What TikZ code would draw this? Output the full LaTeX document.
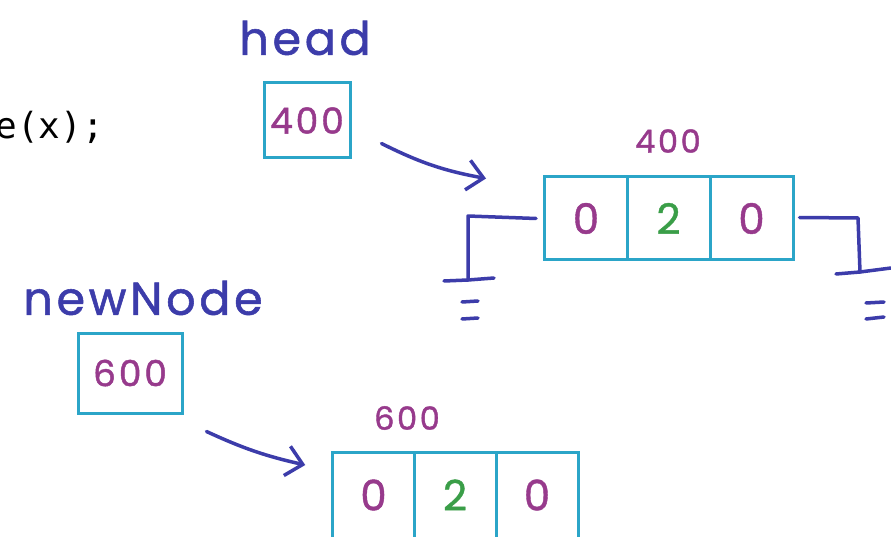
\documentclass[tikz,border=0pt]{standalone}
\usepackage{fontspec}
\setmainfont{Poppins}[FakeBold=1]
\newfontfamily\codefont{DejaVu Sans Mono}
\newfontfamily\handfont[LetterSpace=8,FakeBold=1.2]{Poppins}
\usetikzlibrary{arrows.meta}

\definecolor{boxc}{HTML}{2BA5C8}
\definecolor{inkc}{HTML}{3C3CAA}
\definecolor{digc}{HTML}{973A8C}
\definecolor{valc}{HTML}{3A9E48}

\tikzset{
  ptrbox/.style={draw=boxc, line width=3pt, inner sep=0pt,
    text=digc, font=\handfont\fontsize{36}{36}\selectfont},
  cell/.style={draw=boxc, line width=3pt, inner sep=0pt,
    minimum width=83, minimum height=83, font=\fontsize{42}{42}\selectfont},
  varname/.style={text=inkc, font=\handfont\fontsize{46}{46}\selectfont},
  addr/.style={text=digc, font=\handfont\fontsize{32}{32}\selectfont},
  ink/.style={draw=inkc, line width=3.5pt, line cap=round, line join=round},
  ptrarrow/.style={ink, -{Straight Barb[length=16pt, width=30pt, line width=3.5pt]}},
}

\begin{document}
\begin{tikzpicture}[x=1pt, y=-1pt]
  \useasboundingbox (0,0) rectangle (891,537);
  \clip (0,0) rectangle (891,537);
  \fill[white] (0,0) rectangle (891,537);

  % code fragment on the left, running off the left edge
  \node[anchor=base east, inner sep=0pt, font=\codefont\fontsize{36}{36}\selectfont] (code) at (104,139) {e(x);};

  % head pointer
  \node[varname] (headlbl) at (305,38) {head};
  \node[ptrbox, minimum width=86, minimum height=75] (headbox) at (307,120.5) {400};

  % node at address 400
  \node[addr] (addr400) at (668,141) {400};
  \node[cell, text=digc] (a1) at (586,218.5) {0};
  \node[cell, text=valc] (a2) at (668.5,218.5) {2};
  \node[cell, text=digc] (a3) at (751.5,218.5) {0};

  \draw[ptrarrow] ([shift={(30,23)}]headbox.east) to[bend right=8] ([shift={(-57,-40)}]a1.west);

  % null links of the node at 400
  \coordinate (lg) at (468,280);
  \draw[ink] ([xshift=-7]a1.west) -- (468,216) -- (lg);
  \draw[ink] (444,281) -- (lg) -- (494,278);
  \draw[ink] (462,302) -- (478,301);
  \draw[ink] (462,319) -- (478,318);

  \coordinate (rg) at (860,272);
  \draw[ink] ([xshift=5,yshift=1]a3.east) -- (858,218) -- (rg);
  \draw[ink] (836,274) -- (rg) -- (891,268);
  \draw[ink] (866,303) -- (884,302);
  \draw[ink] (866,319) -- (884,317);

  % newNode pointer
  \node[varname] (newlbl) at (143,298) {newNode};
  \node[ptrbox, minimum width=104, minimum height=80] (newbox) at (130,373) {600};

  % node at address 600
  \node[addr] (addr600) at (407,418) {600};
  \node[cell, minimum width=81.5, minimum height=86, text=digc] (b1) at (373.5,495) {0};
  \node[cell, minimum width=82, minimum height=86, text=valc] (b2) at (455,495) {2};
  \node[cell, minimum width=82, minimum height=86, text=digc] (b3) at (537,495) {0};

  \draw[ptrarrow] ([shift={(23,17)}]newbox.south east) to[bend right=6] ([shift={(-26,-30)}]b1.west);
\end{tikzpicture}
\end{document}
